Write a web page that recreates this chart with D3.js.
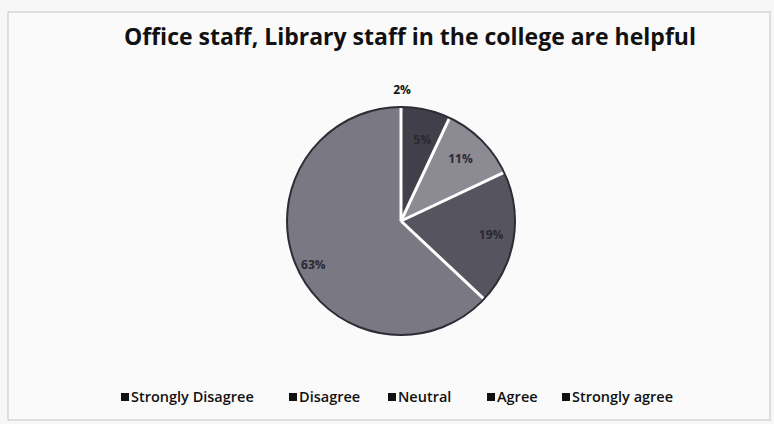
<!DOCTYPE html>
<html><head><meta charset="utf-8">
<script src="https://cdn.jsdelivr.net/npm/d3@7"></script>
<style>body{margin:0;background:#f7f7f7}</style>
</head><body>
<svg id="c" width="774" height="424"></svg>
<script>
const title = "Office staff, Library staff in the college are helpful";
const categories = ["Strongly Disagree","Disagree","Neutral","Agree","Strongly agree"];
const values = [2,5,11,19,63];
const labels = ["2%","5%","11%","19%","63%"];
const colors = ["#413f4a","#413f4a","#8c8a93","#56545f","#7a7882"];

const svg = d3.select("#c");
svg.append("rect").attr("x",0).attr("y",0).attr("width",774).attr("height",424).attr("fill","#f7f7f7");
svg.append("rect").attr("x",8).attr("y",12).attr("width",762).attr("height",408)
  .attr("fill","#fafafa").attr("stroke","#c4c4c4").attr("stroke-width",1);

svg.append("text").attr("x",410).attr("y",45).attr("text-anchor","middle")
  .attr("font-family","Open Sans, sans-serif").attr("font-weight","bold")
  .attr("font-size",23).attr("fill","#111").text(title);

const cx=401, cy=221, r=114;
const pie = d3.pie().sort(null).value(d=>d)(values);
const arc = d3.arc().innerRadius(0).outerRadius(r);
const g = svg.append("g").attr("transform",`translate(${cx},${cy})`);
g.selectAll("path").data(pie).join("path")
  .attr("d",arc).attr("fill",(d,i)=>colors[i])
  .attr("stroke",(d,i)=>colors[i]).attr("stroke-width",0.8);
g.selectAll("line.sep").data(pie.filter((d,i)=>i!==1)).join("line")
  .attr("x1",0).attr("y1",0)
  .attr("x2",d=>r*Math.sin(d.startAngle)).attr("y2",d=>-r*Math.cos(d.startAngle))
  .attr("stroke","#fff").attr("stroke-width",3);
g.append("circle").attr("r",r).attr("fill","none").attr("stroke","#2e2c36").attr("stroke-width",2);

const labelArc = d3.arc().innerRadius(r*0.8).outerRadius(r*0.8);
g.selectAll("text").data(pie).join("text")
  .attr("transform",(d,i)=>{
    if(i===0) return `translate(${1},${-r-17})`;
    const c = labelArc.centroid(d);
    if(i===1) return `translate(${c[0]-4},${c[1]+6})`;
    if(i===4) return `translate(${c[0]-4},${c[1]+8})`;
    if(i===2) return `translate(${c[0]-5},${c[1]+2})`;
    return `translate(${c[0]},${c[1]})`;
  })
  .attr("text-anchor","middle").attr("dy","0.35em")
  .attr("font-family","Open Sans, sans-serif").attr("font-weight","bold")
  .attr("font-size",12).attr("fill",(d,i)=>i===0?"#111":"#2a2830")
  .text((d,i)=>labels[i]);

const legendX = [121,289,388,487,562];
const lg = svg.append("g");
categories.forEach((c,i)=>{
  lg.append("rect").attr("x",legendX[i]).attr("y",393).attr("width",8).attr("height",8).attr("fill","#111");
  lg.append("text").attr("x",legendX[i]+10).attr("y",402)
    .attr("font-family","Open Sans, sans-serif").attr("font-weight","600")
    .attr("font-size",14.5).attr("fill","#111").text(c);
});
</script>
</body></html>
